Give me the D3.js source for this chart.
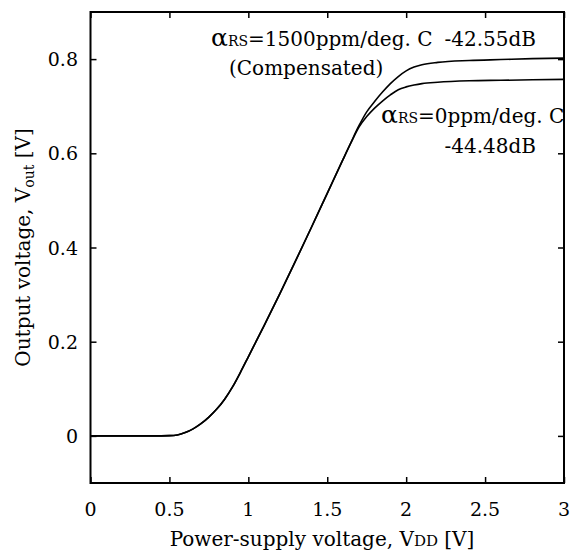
<!DOCTYPE html>
<html>
<head>
	<meta http-equiv="Content-Type" content="text/html;charset=utf-8">
	<title>Vout vs VDD</title>
	<script src="https://d3js.org/d3.v7.min.js"></script>
	<style type="text/css">
		body { margin: 0; background: #fff; }
		svg { font-family: "DejaVu Serif", serif; }
		.frame { fill: none; stroke: #000; stroke-width: 2; }
		.curve { fill: none; stroke: #000; stroke-width: 1.6; }
		.tick line { stroke: #000; stroke-width: 1.5; }
		.lbl { font-size: 19px; fill: #000; }
		.ttl { font-size: 20px; fill: #000; }
		.ann { font-size: 20px; fill: #000; }
	</style>
</head>
<body>
	<svg width="572" height="551"></svg>
	<script type='text/javascript'>
		// supply voltage samples [V]
		const vdd = [0, 0.2, 0.4, 0.5, 0.55, 0.6, 0.65, 0.7, 0.75, 0.8, 0.85, 0.9, 0.95, 1.0, 1.1, 1.2, 1.3, 1.4, 1.5,
			1.6, 1.65, 1.7, 1.75, 1.8, 1.85, 1.9, 1.95, 2.0, 2.05, 2.1, 2.2, 2.4, 2.6, 2.8, 3.0];
		// aRS = 1500ppm/deg. C (compensated)
		const voutComp = [0, 0, 0, 0.0005, 0.002, 0.007, 0.015, 0.026, 0.04, 0.057, 0.078, 0.104, 0.135, 0.168, 0.234, 0.302, 0.372, 0.443, 0.515,
			0.587, 0.623, 0.658, 0.688, 0.71, 0.73, 0.748, 0.763, 0.775, 0.783, 0.788, 0.793, 0.797, 0.799, 0.801, 0.802];
		// aRS = 0ppm/deg. C
		const voutZero = [0, 0, 0, 0.0005, 0.002, 0.007, 0.015, 0.026, 0.04, 0.057, 0.078, 0.104, 0.135, 0.168, 0.234, 0.302, 0.372, 0.443, 0.515,
			0.587, 0.622, 0.655, 0.678, 0.696, 0.711, 0.724, 0.735, 0.741, 0.745, 0.748, 0.751, 0.754, 0.755, 0.756, 0.757];
		const xTicks = [0, 0.5, 1, 1.5, 2, 2.5, 3];
		const yTicks = [0, 0.2, 0.4, 0.6, 0.8];

		const svg = d3.select('svg');
		const pl = 90.5, pr = 564, pt = 12, pb = 483;

		const x = d3.scaleLinear().domain([0, 3]).range([pl, pr]);
		const y = d3.scaleLinear().domain([-0.1, 0.9]).range([pb, pt]);

		// inward ticks on all four sides
		const tk = 6;
		svg.append('g').attr('class', 'tick').attr('transform', `translate(0,${pb})`)
			.call(d3.axisTop(x).tickValues(xTicks).tickSize(tk).tickFormat(''))
			.call(g => g.select('.domain').remove());
		svg.append('g').attr('class', 'tick').attr('transform', `translate(0,${pt})`)
			.call(d3.axisBottom(x).tickValues(xTicks).tickSize(tk).tickFormat(''))
			.call(g => g.select('.domain').remove());
		svg.append('g').attr('class', 'tick').attr('transform', `translate(${pl},0)`)
			.call(d3.axisRight(y).tickValues(yTicks).tickSize(tk).tickFormat(''))
			.call(g => g.select('.domain').remove());
		svg.append('g').attr('class', 'tick').attr('transform', `translate(${pr},0)`)
			.call(d3.axisLeft(y).tickValues(yTicks).tickSize(tk).tickFormat(''))
			.call(g => g.select('.domain').remove());

		svg.selectAll('.xl').data(xTicks).enter().append('text')
			.attr('class', 'lbl').attr('x', d => x(d)).attr('y', 516)
			.attr('text-anchor', 'middle').text(d => d);
		svg.selectAll('.yl').data(yTicks).enter().append('text')
			.attr('class', 'lbl').attr('x', 78).attr('y', d => y(d) + 7)
			.attr('text-anchor', 'end').text(d => d);

		svg.append('rect').attr('class', 'frame')
			.attr('x', pl).attr('y', pt).attr('width', pr - pl).attr('height', pb - pt);

		const line = d3.line().x(d => x(d[0])).y(d => y(d[1])).curve(d3.curveMonotoneX);
		svg.append('path').attr('class', 'curve').attr('d', line(d3.zip(vdd, voutComp)));
		svg.append('path').attr('class', 'curve').attr('d', line(d3.zip(vdd, voutZero)));

		// axis titles
		const xt = svg.append('text').attr('class', 'ttl').attr('x', 322).attr('y', 546)
			.attr('text-anchor', 'middle');
		xt.append('tspan').text('Power-supply voltage, V');
		xt.append('tspan').attr('font-size', 15).text('DD');
		xt.append('tspan').text(' [V]');

		const yt = svg.append('text').attr('class', 'ttl')
			.attr('transform', `translate(30,${(pt + pb) / 2}) rotate(-90)`).attr('text-anchor', 'middle');
		yt.append('tspan').text('Output voltage, V');
		yt.append('tspan').attr('font-size', 14).attr('dy', 4).text('out');
		yt.append('tspan').attr('dy', -4).text(' [V]');

		// annotations
		function alpha(t, xp, yp, rest) {
			t.attr('x', xp).attr('y', yp);
			t.append('tspan').attr('font-size', 25).text('α');
			t.append('tspan').attr('font-size', 14).text('RS');
			t.append('tspan').text(rest);
		}
		alpha(svg.append('text').attr('class', 'ann'), 211, 46, '=1500ppm/deg. C');
		svg.append('text').attr('class', 'ann').attr('x', 536).attr('y', 46).attr('text-anchor', 'end').text('-42.55dB');
		svg.append('text').attr('class', 'ann').attr('x', 229).attr('y', 75).text('(Compensated)');
		alpha(svg.append('text').attr('class', 'ann'), 381, 123, '=0ppm/deg. C');
		svg.append('text').attr('class', 'ann').attr('x', 536).attr('y', 153).attr('text-anchor', 'end').text('-44.48dB');
	</script>
</body>
</html>
